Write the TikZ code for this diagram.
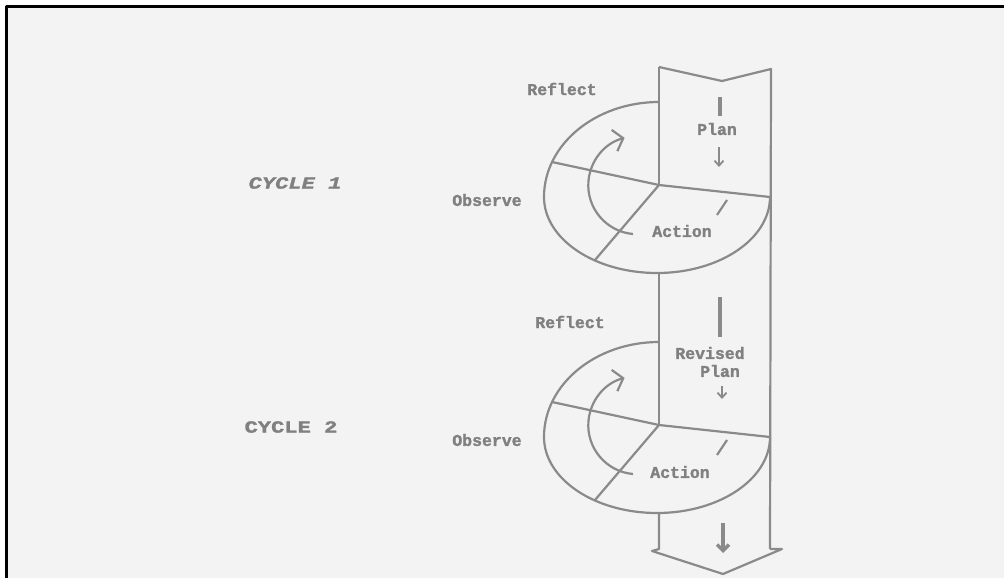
\documentclass[tikz,border=0pt]{standalone}
\usepackage{fontspec}
\newfontfamily\lblfont[BoldFeatures={FakeBold=1.6}]{Liberation Mono}
\newfontfamily\cyclefont[FakeStretch=1.3,BoldFeatures={FakeBold=1.6},BoldItalicFeatures={FakeBold=1.6}]{Liberation Mono}
\usepackage{xcolor}
\usetikzlibrary{arrows.meta,positioning,calc}
\definecolor{inkgray}{HTML}{8A8A8A}
\definecolor{txtgray}{HTML}{808080}
\definecolor{paper}{HTML}{F3F3F3}

\begin{document}
\begin{tikzpicture}[x=1pt,y=-1pt,line width=2.2pt,color=inkgray,line join=round,
  lbl/.style={font=\lblfont\bfseries\fontsize{16.5}{18}\selectfont,text=txtgray,inner sep=0pt},
  cyclbl/.style={font=\cyclefont\bfseries\fontsize{17}{19}\selectfont,text=txtgray,inner sep=0pt},
  turn/.style={-{Straight Barb[length=9pt,width=22pt]}},
  down/.style={-{Straight Barb[length=5pt,width=9pt]}}]
\path[use as bounding box] (0,0) rectangle (1004,578);
\fill[paper] (6,7) rectangle (1004,578);
\draw[black,line width=3pt] (6,578) -- (6,7) -- (1004,7);
% the two turns of the spiral
\foreach \k/\cy in {1/185,2/425}{
  \coordinate (c\k) at (659,\cy);
  \draw (c\k) ++(0,-83) coordinate (top\k)
    arc[start angle=-90,end angle=-180,x radius=115,y radius=95] coordinate (left\k)
    arc[start angle=180,end angle=0,x radius=113,y radius=76] coordinate (right\k);
  \coordinate (bot\k) at ($(c\k)+(0,88)$);
  \draw (c\k) -- ++(-107,-23);
  \draw (c\k) -- (right\k);
  \draw (c\k) -- ++(-64,75);
  \draw[turn] (c\k) ++(-26,49) arc[start angle=95,end angle=255,radius=49];
  \draw (c\k) ++(58,30) -- ++(10,-15);
}
% the band
\draw (659,67) -- (722,81) -- (771,69) -- (770,549);
\draw (659,67) -- (c1);
\draw (bot1) -- (c2);
\draw (bot2) -- (659,549) -- (652,551) -- (723,574) -- (782,549) -- (770,549);
% labels
\node[cyclbl,font=\cyclefont\bfseries\itshape\fontsize{17}{19}\selectfont] (cycle1) at (295,183) {CYCLE 1};
\node[cyclbl] (cycle2) at (291,427) {CYCLE 2};
\node[lbl] (reflect1) at (562,89) {Reflect};
\node[lbl] (observe1) at (487,200) {Observe};
\node[lbl] (action1) at (682,231) {Action};
\node[lbl] (plan1) at (717,129) {Plan};
\node[lbl] (reflect2) at (570,322) {Reflect};
\node[lbl] (observe2) at (487,440) {Observe};
\node[lbl] (action2) at (680,472) {Action};
\node[lbl] (revised) at (710,353) {Revised};
\node[lbl] (plan2) at (720,371) {Plan};
% arrows inside the band
\draw[line width=4pt] (720,97) -- (720,116);
\draw[line width=1.8pt,down] (719,147) -- (719,167);
\draw[line width=4pt] (720,297) -- (720,337);
\draw[line width=1.8pt,down] (722,386) -- (722,399);
\draw[line width=3.5pt,-{Straight Barb[length=6pt,width=12pt]}] (723,523) -- (723,553);
\end{tikzpicture}
\end{document}
